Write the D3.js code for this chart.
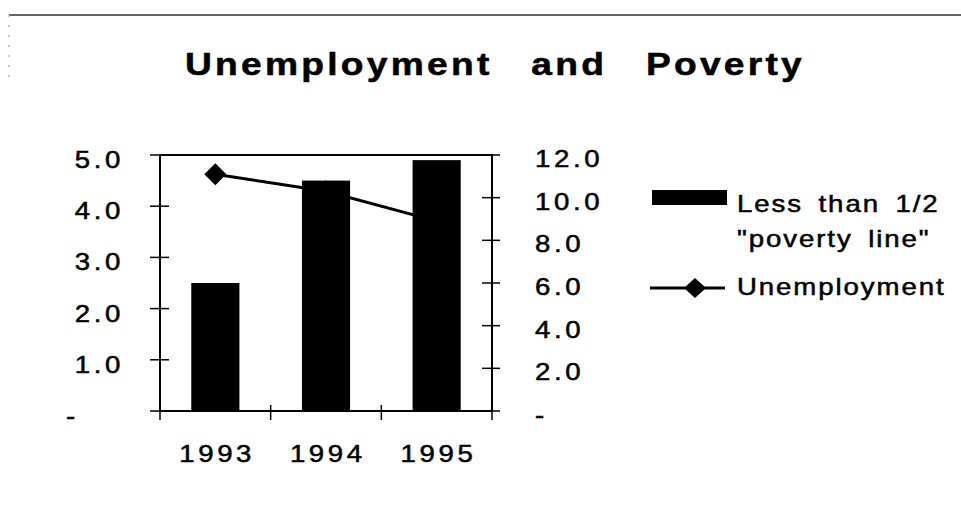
<!DOCTYPE html>
<html>
<head>
<meta charset="UTF-8">
<style>
  body { margin: 0; background: #fff; }
  svg { display: block; }
  text { font-family: "Liberation Sans", Arial, Helvetica, sans-serif; fill: #000; stroke: #000; stroke-width: 0.5px; }
</style>
</head>
<body>
<svg></svg>
<script src="https://d3js.org/d3.v7.min.js"></script>
<script>
  // chart data
  const years = ["1993", "1994", "1995"];
  const povertyShare = [2.5, 4.5, 4.9];     // bars, left axis
  const unemployment = [11.1, 10.3, 8.9];   // line, right axis
  const leftTicks = [0, 1, 2, 3, 4, 5];
  const rightTicks = [0, 2, 4, 6, 8, 10, 12];
  const titleText = "Unemployment and Poverty";
  const legendBar = ["Less than 1/2", "\"poverty line\""];
  const legendLine = "Unemployment";

  const width = 961, height = 507;
  const plot = { left: 160, right: 492, top: 155, bottom: 411 };
  const sx = 1.2; // the scanned type is wide

  const svg = d3.select("svg")
    .attr("width", width)
    .attr("height", height);

  const place = (px, py) => `translate(${px},${py}) scale(${sx},1)`;

  // scanned page edge
  svg.append("line")
    .attr("x1", 9).attr("x2", width).attr("y1", 15).attr("y2", 15)
    .style("stroke", "#333").style("stroke-width", 1.5);
  svg.append("line")
    .attr("x1", 9).attr("x2", 9).attr("y1", 15).attr("y2", 80)
    .style("stroke", "#999").style("stroke-width", 1)
    .style("stroke-dasharray", "2,8");

  // title
  svg.append("text")
    .attr("transform", place(185, 75))
    .style("font-size", "31px").style("font-weight", "bold")
    .style("letter-spacing", "2.7px").style("word-spacing", "21px")
    .text(titleText);

  const x = d3.scaleBand()
    .domain(years)
    .range([plot.left, plot.right])
    .paddingInner(0.565)
    .paddingOuter(0.2825);

  const yLeft = d3.scaleLinear().domain([0, 5]).range([plot.bottom, plot.top]);
  const yRight = d3.scaleLinear().domain([0, 12]).range([plot.bottom, plot.top]);

  const fmt = d => d === 0 ? "-" : d.toFixed(1);

  // unemployment line (drawn under the bars)
  const rows = years.map((y, i) => ({ year: y, bar: povertyShare[i], line: unemployment[i] }));
  const lineGen = d3.line()
    .x(d => x(d.year) + x.bandwidth() / 2)
    .y(d => yRight(d.line));
  svg.append("path")
    .datum(rows)
    .attr("d", lineGen)
    .style("fill", "none").style("stroke", "#000").style("stroke-width", 3);
  svg.append("g").selectAll("path")
    .data(rows)
    .enter().append("path")
    .attr("transform", d => `translate(${x(d.year) + x.bandwidth() / 2},${yRight(d.line)})`)
    .attr("d", "M0,-11L11,0L0,11L-11,0Z")
    .style("fill", "#000");

  // bars
  svg.append("g").selectAll("rect")
    .data(rows)
    .enter().append("rect")
    .attr("x", d => x(d.year))
    .attr("y", d => yLeft(d.bar))
    .attr("width", x.bandwidth())
    .attr("height", d => yLeft(0) - yLeft(d.bar))
    .style("fill", "#000");

  // plot frame
  svg.append("rect")
    .attr("x", plot.left).attr("y", plot.top)
    .attr("width", plot.right - plot.left).attr("height", plot.bottom - plot.top)
    .style("fill", "none").style("stroke", "#000").style("stroke-width", 2);

  // left axis: ticks cross the frame
  const gl = svg.append("g");
  gl.selectAll("line")
    .data(leftTicks)
    .enter().append("line")
    .attr("x1", plot.left - 10).attr("x2", plot.left + 9)
    .attr("y1", d => yLeft(d)).attr("y2", d => yLeft(d))
    .style("stroke", "#000").style("stroke-width", 1.5);
  gl.selectAll("text")
    .data(leftTicks)
    .enter().append("text")
    .attr("transform", d => place(d === 0 ? 66 : 124, yLeft(d) + 13))
    .attr("text-anchor", d => d === 0 ? "start" : "end")
    .style("font-size", "23px").style("letter-spacing", "3px")
    .text(fmt);

  // right axis
  const gr = svg.append("g");
  gr.selectAll("line")
    .data(rightTicks)
    .enter().append("line")
    .attr("x1", plot.right - 10).attr("x2", plot.right + 8)
    .attr("y1", d => yRight(d)).attr("y2", d => yRight(d))
    .style("stroke", "#000").style("stroke-width", 1.5);
  gr.selectAll("text")
    .data(rightTicks)
    .enter().append("text")
    .attr("transform", d => place(535, yRight(d) + 12))
    .style("font-size", "23px").style("letter-spacing", "3px")
    .text(fmt);

  // category axis
  const bounds = [plot.left].concat(years.slice(1).map(y => x(y) - x.step() * x.paddingInner() / 2), [plot.right]);
  svg.append("g").selectAll("line")
    .data(bounds)
    .enter().append("line")
    .attr("x1", d => d).attr("x2", d => d)
    .attr("y1", plot.bottom - 6).attr("y2", plot.bottom + 9)
    .style("stroke", "#000").style("stroke-width", 1.5);
  svg.append("g").selectAll("text")
    .data(years)
    .enter().append("text")
    .attr("transform", d => place(x(d) + x.bandwidth() / 2, 462))
    .attr("text-anchor", "middle")
    .attr("dx", 1.5)
    .style("font-size", "23px").style("letter-spacing", "3px")
    .text(d => d);

  // legend
  const lg = svg.append("g");
  lg.append("rect")
    .attr("x", 652).attr("y", 190).attr("width", 75).attr("height", 15)
    .style("fill", "#000");
  lg.selectAll("text.bar")
    .data(legendBar)
    .enter().append("text")
    .attr("class", "bar")
    .attr("transform", (d, i) => place(737, 212 + i * 35))
    .style("font-size", "23px").style("letter-spacing", "1.6px").style("word-spacing", "5px")
    .text(d => d);
  lg.append("line")
    .attr("x1", 650).attr("x2", 725).attr("y1", 288).attr("y2", 288)
    .style("stroke", "#000").style("stroke-width", 3);
  lg.append("path")
    .attr("transform", "translate(695,288)")
    .attr("d", "M0,-10L11,0L0,10L-11,0Z")
    .style("fill", "#000");
  lg.append("text")
    .attr("transform", place(737, 295))
    .style("font-size", "23px").style("letter-spacing", "1.6px")
    .text(legendLine);
</script>
</body>
</html>
